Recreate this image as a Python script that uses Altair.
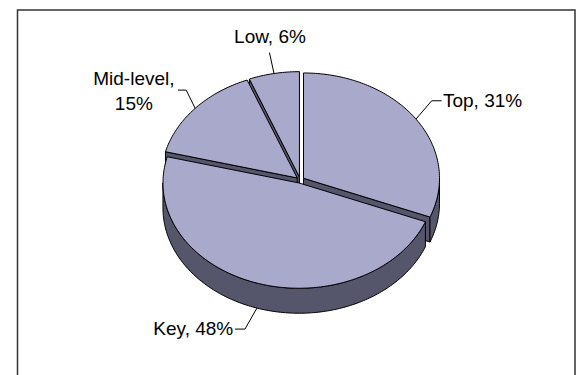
import math
import altair as alt
import pandas as pd

# ---- data -------------------------------------------------------------
categories = ["Top", "Key", "Mid-level", "Low"]
values = [31, 48, 15, 6]          # percent

# ---- layout / style (not data) ---------------------------------------
W, H = 580, 375
CX, CY = 300.2, 180.0             # pie centre on screen
RX, RY = 136.0, 105.3             # ellipse radii of the top face
DEPTH = 25.0                      # thickness of the pie
EXPL = 4.0                        # explosion distance
TOP_FILL = "#A9A9CB"
SIDE_FILL = "#55556B"
FONT = "Liberation Sans"

label_layout = {
    "Low":       dict(elbow=(-4.5, -21.0), tick=0.0,  text=(0.5, -9.6), align="center", wrap=False),
    "Mid-level": dict(elbow=(-9.0, -18.2), tick=-8.3, text=(-44.0, -5.0), align="center", wrap=True),
    "Top":       dict(elbow=(15.7, -18.3), tick=10.0, text=(1.3, 6.0), align="left", wrap=False),
    "Key":       dict(elbow=(-12.0, 21.0), tick=-10.0, text=(-1.7, 6.0), align="right", wrap=False),
}

# ---- geometry helpers -------------------------------------------------
total = float(sum(values))
spans = []
acc = 0.0
for v in values:
    a0 = acc
    acc += v / total * 360.0
    spans.append((a0, acc))


def explode(mid):
    r = math.radians(mid)
    return (EXPL * math.sin(r), -EXPL * (RY / RX) * math.cos(r))


def pt(theta, r, level, off):
    t = math.radians(theta)
    return [round(CX + off[0] + RX * r * math.sin(t), 2),
            round(CY + off[1] - RY * r * math.cos(t) + DEPTH * level, 2)]


def arc(t0, t1, level, off):
    n = max(2, int(abs(t1 - t0) / 1.0) + 1)
    return [pt(t0 + (t1 - t0) * i / (n - 1), 1, level, off) for i in range(n)]


def poly(ring, fill, rank):
    ring = ring + [ring[0]]
    depth = sum(p[1] for p in ring) / len(ring)
    return (rank, depth, {"type": "Feature",
                          "geometry": {"type": "Polygon", "coordinates": [ring]},
                          "properties": {"fill": fill}})


faces = []
for (a0, a1) in spans:
    mid = (a0 + a1) / 2
    off = explode(mid)
    # radial cut faces (only those facing the viewer)
    if math.sin(math.radians(a0)) < -1e-6:
        faces.append(poly([pt(a0, 0, 0, off), pt(a0, 1, 0, off), pt(a0, 1, 1, off), pt(a0, 0, 1, off)], SIDE_FILL, 0))
    if math.sin(math.radians(a1)) > 1e-6:
        faces.append(poly([pt(a1, 0, 0, off), pt(a1, 1, 0, off), pt(a1, 1, 1, off), pt(a1, 0, 1, off)], SIDE_FILL, 0))
    # outer curved wall (front half only)
    lo, hi = max(a0, 90.0), min(a1, 270.0)
    if hi > lo:
        faces.append(poly(arc(lo, hi, 0, off) + arc(hi, lo, 1, off), SIDE_FILL, 1))
    # top face
    faces.append(poly([pt(a0, 0, 0, off)] + arc(a0, a1, 0, off), TOP_FILL, 2))

faces.sort(key=lambda f: (f[0], f[1]))
face_features = [f[2] for f in faces]

# leader lines and labels
leader_features = []
label_rows = []
for cat, v, (a0, a1) in zip(categories, values, spans):
    mid = (a0 + a1) / 2
    off = explode(mid)
    level = 1 if 90.0 < mid < 270.0 else 0
    start = pt(mid, 1, level, off)
    lay = label_layout[cat]
    elbow = [start[0] + lay["elbow"][0], start[1] + lay["elbow"][1]]
    end = [elbow[0] + lay["tick"], elbow[1]]
    coords = [start, elbow] + ([end] if lay["tick"] != 0 else [])
    leader_features.append({"type": "Feature",
                            "geometry": {"type": "LineString", "coordinates": coords},
                            "properties": {"name": cat}})
    text = f"{cat}, {v}%"
    if lay["wrap"]:
        text = text.replace(", ", ",\n")
    label_rows.append({"x": end[0] + lay["text"][0], "y": end[1] + lay["text"][1],
                       "label": text, "align": lay["align"]})

labels = pd.DataFrame(label_rows)

frame_features = [{"type": "Feature",
                   "geometry": {"type": "Polygon",
                                "coordinates": [[[0, 0], [W, 0], [W, H], [0, H], [0, 0]]]},
                   "properties": {}}]
border_features = [{"type": "Feature",
                    "geometry": {"type": "LineString",
                                 "coordinates": [[17.5, H], [17.5, 10], [575, 10], [575, H]]},
                    "properties": {}}]

proj = dict(type="identity")

frame = alt.Chart(alt.Data(values=frame_features)).mark_geoshape(opacity=0).project(**proj)
border = alt.Chart(alt.Data(values=border_features)).mark_geoshape(
    filled=False, stroke="#333333", strokeWidth=1.5).project(**proj)
pie = alt.Chart(alt.Data(values=face_features)).mark_geoshape(
    stroke="black", strokeWidth=1, strokeJoin="round").encode(
    fill=alt.Fill("properties.fill:N", scale=None)).project(**proj)
leaders = alt.Chart(alt.Data(values=leader_features)).mark_geoshape(
    filled=False, stroke="black", strokeWidth=1).project(**proj)

text_layers = []
for al in ["left", "center", "right"]:
    sub = labels[labels["align"] == al]
    if len(sub) == 0:
        continue
    text_layers.append(
        alt.Chart(sub).mark_text(font=FONT, fontSize=19, align=al, baseline="alphabetic",
                                 lineBreak="\n", lineHeight=25, color="black").encode(
            longitude="x:Q", latitude="y:Q", text="label:N").project(**proj)
    )

chart = alt.layer(frame, border, pie, leaders, *text_layers).properties(
    width=W, height=H, padding=0, autosize="none", background="white"
).configure_view(strokeWidth=0)

chart.save("out.html", embed_options={"renderer": "svg", "actions": False})
